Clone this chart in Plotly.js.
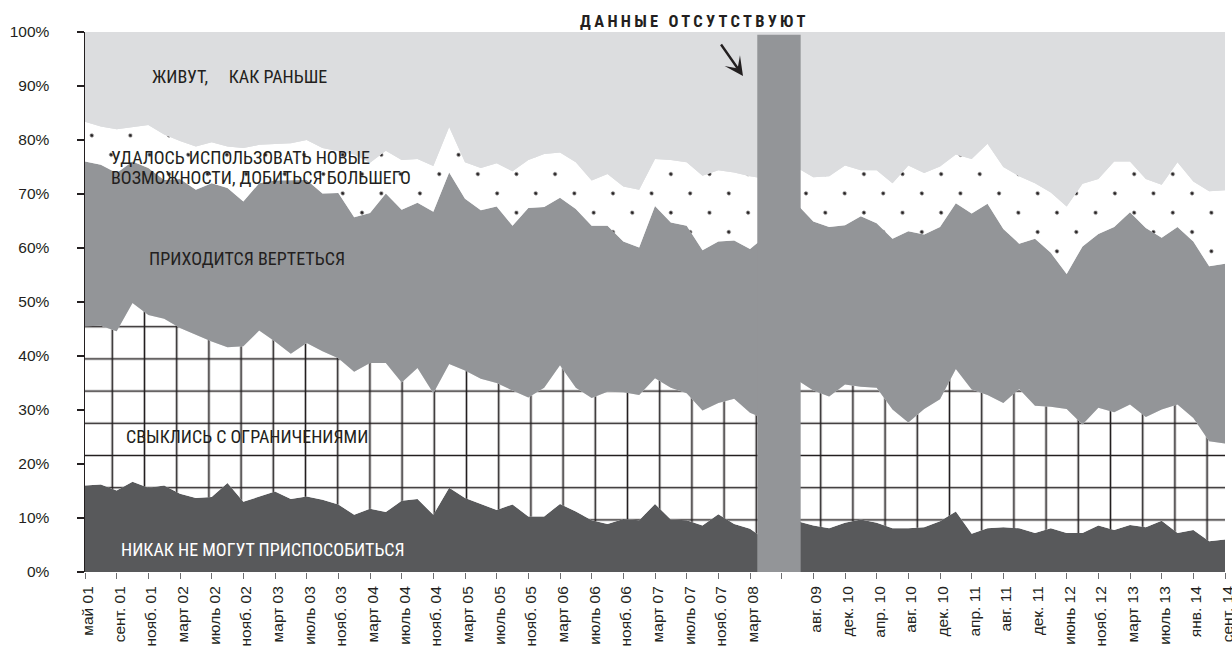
<!DOCTYPE html>
<html>
<head>
<meta charset="utf-8">
<script src="https://cdn.plot.ly/plotly-3.0.1.min.js"></script>
<style>
html, body { margin: 0; padding: 0; background: #ffffff; }
#chart { width: 1232px; height: 650px; }
</style>
</head>
<body>
<div id="chart"></div>
<script>
// ---- tick labels (one per labelled survey wave, blank = no data) ----
const tickLabels = ['май 01','сент. 01','нояб. 01','март 02','июль 02','нояб. 02','март 03','июль 03',
  'нояб. 03','март 04','июль 04','нояб. 04','март 05','июль 05','нояб. 05','март 06','июль 06',
  'нояб. 06','март 07','июль 07','нояб. 07','март 08','','авг. 09','дек. 10','апр. 10','авг. 10',
  'дек. 10','апр. 11','авг. 11','дек. 11','июнь 12','нояб. 12','март 13','июль 13','янв. 14','сент. 14'];
const yTickVals = [0,10,20,30,40,50,60,70,80,90,100];
const yTickText = ['0%','10%','20%','30%','40%','50%','60%','70%','80%','90%','100%'];

// ---- survey wave ordinal positions (two waves per labelled tick) ----
const waveIdx = [0,1,2,3,4,5,6,7,8,9,10,11,12,13,14,15,16,17,18,19,20,21,22,23,24,25,26,27,28,29,30,
  31,32,33,34,35,36,37,38,39,40,41,42,43,
  45,46,47,48,49,50,51,52,53,54,55,56,57,58,59,60,61,62,63,64,65,66,67,68,69,70,71,72];

// ---- series values, % ----
const neverAdapt = [16.0,16.2,15.1,16.7,15.6,16.0,14.5,13.7,13.9,16.5,13.0,14.0,14.9,13.5,14.0,13.4,12.5,
  10.6,11.7,11.1,13.2,13.5,10.6,15.6,13.7,12.6,11.5,12.5,10.3,10.3,12.6,11.2,9.6,8.9,9.8,9.6,12.6,9.7,
  9.6,8.6,10.7,8.9,8.0,5.9,
  9.4,8.6,8.1,9.1,9.7,9.1,8.1,8.1,8.3,9.4,11.2,7.1,8.1,8.3,8.1,7.2,8.1,7.2,7.2,8.6,7.8,8.7,8.3,9.5,
  7.2,7.8,5.7,6.0];
const resigned = [29.5,29.4,29.5,33.1,32.0,30.9,30.7,30.2,28.8,25.1,28.8,30.7,27.8,26.9,28.4,27.5,27.1,
  26.5,27.0,27.6,21.9,24.3,22.5,22.9,23.6,23.2,23.5,21.1,22.0,23.8,25.7,22.9,22.6,24.5,23.5,23.2,23.3,
  24.4,23.5,21.3,20.6,23.2,21.5,22.4,
  26.1,25.0,24.4,25.6,24.6,25.0,22.0,19.6,21.9,22.6,26.4,26.7,24.7,23.0,25.8,23.6,22.5,23.0,20.1,21.8,
  21.8,22.3,20.4,20.6,23.8,20.7,18.5,17.8];
const spinning = [30.5,29.8,29.3,26.2,27.2,25.7,27.6,26.9,29.3,29.5,26.8,27.3,29.8,32.1,30.2,29.2,30.6,
  28.6,27.8,31.4,32.0,30.6,33.6,35.5,31.8,31.2,32.7,30.5,35.1,33.5,31.0,33.1,31.9,30.7,27.9,27.3,31.9,
  30.6,31.0,29.7,29.9,29.3,30.3,33.9,
  32.5,31.3,31.4,29.5,31.6,30.5,31.6,35.4,32.3,31.9,30.7,32.6,35.4,32.2,26.9,30.9,28.5,25.0,33.0,32.2,
  34.3,35.6,35.0,31.8,32.9,32.7,32.4,33.3];
const newChances = [7.4,7.1,8.1,6.4,8.0,8.4,7.0,8.0,7.6,7.7,9.9,7.1,6.8,6.9,7.4,8.4,7.7,11.6,9.3,7.9,
  9.2,8.1,8.5,8.4,6.8,7.8,8.0,10.1,8.9,9.8,8.4,8.7,8.4,9.6,10.2,10.7,8.7,11.6,11.8,13.8,13.2,12.6,13.5,10.6,
  6.8,8.2,9.4,11.1,8.5,9.8,10.3,12.2,11.4,11.2,9.0,10.1,11.1,11.5,12.5,10.3,11.2,12.5,11.6,10.2,12.1,
  9.4,9.1,9.8,12.0,11.1,13.9,13.6];
const asBefore = [16.6,17.5,18.0,17.6,17.2,19.0,20.2,21.2,20.4,21.2,21.5,20.9,20.7,20.6,20.0,21.5,22.1,
  22.7,24.2,22.0,23.7,23.5,24.8,17.6,24.1,25.2,24.3,25.8,23.7,22.6,22.3,24.1,27.5,26.3,28.6,29.2,23.5,
  23.7,24.1,26.6,25.6,26.0,26.7,27.2,
  25.2,26.9,26.7,24.7,25.6,25.6,28.0,24.7,26.1,24.9,22.7,23.5,20.7,25.0,26.7,28.0,29.7,32.3,28.1,27.2,
  24.0,24.0,27.2,28.3,24.1,27.7,29.5,29.3];

// period without data (covered by a band)
const gapBand = { from: 42.46, to: 45.2 };

const C_DARK = '#58595b', C_MID = '#939598', C_LIGHT = '#dcdddf', C_INK = '#231f20';
const NARROW = '"Liberation Sans Narrow", "Arial Narrow", "Roboto Condensed", "DejaVu Sans Condensed", sans-serif';
const REG = '"Liberation Sans", Arial, Helvetica, sans-serif';

function area(name, y, color, pattern) {
  const t = { type: 'scatter', name: name, x: waveIdx, y: y, stackgroup: 'one', mode: 'lines',
    line: { width: 0 }, fillcolor: color, hoverinfo: 'skip' };
  if (pattern) t.fillpattern = pattern;
  return t;
}

const traces = [
  area('Никак не могут приспособиться', neverAdapt, C_DARK),
  area('Свыклись с ограничениями', resigned, '#ffffff',
       { shape: '+', size: 32.2, solidity: 0.097, fgcolor: C_INK, bgcolor: '#ffffff', fillmode: 'replace' }),
  area('Приходится вертеться', spinning, C_MID),
  area('Удалось использовать новые возможности', newChances, '#ffffff',
       { shape: '.', size: 27.3, solidity: 0.0137, fgcolor: C_INK, bgcolor: '#ffffff', fillmode: 'replace' }),
  area('Живут, как раньше', asBefore, C_LIGHT)
];

// plot-area geometry helpers for placing labels
const L = 85, T = 32, W = 1140, H = 540;
const px = x => (x - L) / W;
const py = y => (T + H - y) / H;

function label(text, x, y, color, extra) {
  return Object.assign({ text: text, xref: 'paper', yref: 'paper', x: px(x), y: py(y),
    xanchor: 'left', yanchor: 'middle', align: 'left', showarrow: false,
    font: { family: NARROW, size: 18, color: color || C_INK } }, extra || {});
}

const layout = {
  width: 1232, height: 650,
  margin: { l: L, r: 1232 - L - W, t: T, b: 650 - T - H, pad: 0 },
  paper_bgcolor: '#ffffff', plot_bgcolor: C_LIGHT,
  showlegend: false,
  xaxis: {
    range: [0, 72], tickmode: 'array', tickvals: tickLabels.map((_, i) => 2 * i), ticktext: tickLabels,
    tickangle: -90, ticks: 'outside', ticklen: 6, tickwidth: 1, tickcolor: '#6d6e71',
    showgrid: false, zeroline: false, showline: false, ticklabelstandoff: 1, ticklabelshift: 3,
    ticklabeloverflow: 'allow',
    tickfont: { family: REG, size: 15.5, color: C_INK }, fixedrange: true
  },
  yaxis: {
    range: [0, 100], tickmode: 'array', tickvals: yTickVals, ticktext: yTickText,
    ticks: 'outside', ticklen: 7, tickwidth: 1.5, tickcolor: C_INK,
    showline: true, linecolor: C_INK, linewidth: 1.5, showgrid: false, zeroline: false,
    ticklabelstandoff: 24, tickfont: { family: REG, size: 15.5, color: C_INK }, fixedrange: true
  },
  shapes: [
    { type: 'rect', xref: 'x', yref: 'y', x0: gapBand.from, x1: gapBand.to, y0: 0, y1: 99.5,
      fillcolor: C_MID, line: { width: 0 }, layer: 'above' }
  ],
  annotations: [
    label('ЖИВУТ,\u00a0\u00a0\u00a0\u00a0 КАК РАНЬШЕ', 150, 76),
    label('УДАЛОСЬ ИСПОЛЬЗОВАТЬ НОВЫЕ', 109, 157.5),
    label('ВОЗМОЖНОСТИ, ДОБИТЬСЯ БОЛЬШЕГО', 109, 177.5),
    label('ПРИХОДИТСЯ ВЕРТЕТЬСЯ', 147, 258),
    label('СВЫКЛИСЬ С ОГРАНИЧЕНИЯМИ', 124, 436.7),
    label('НИКАК НЕ МОГУТ ПРИСПОСОБИТЬСЯ', 119, 549, '#ffffff'),
    label('<b>ДАННЫЕ ОТСУТСТВУЮТ</b>', 578, 22, C_INK, { font: { family: NARROW, size: 16.5, color: C_INK } }),
    { text: '', xref: 'paper', yref: 'paper', x: px(743), y: py(76), ax: -23, ay: -33,
      showarrow: true, arrowhead: 3, arrowwidth: 2.4, arrowsize: 1.3, arrowcolor: C_INK }
  ]
};

Plotly.newPlot('chart', traces, layout, { displayModeBar: false, staticPlot: true }).then(gd => {
  gd.querySelectorAll('pattern').forEach(p => {
    if (p.querySelector('circle')) p.setAttribute('patternTransform', 'translate(6.8,6.9) rotate(45)');
    else p.setAttribute('patternTransform', 'translate(11.2,-11.2)');
  });
  gd.querySelectorAll('.annotation-text').forEach(t => {
    if (t.textContent.indexOf('ДАННЫЕ') >= 0) t.style.letterSpacing = '3.3px';
  });
});
</script>
</body>
</html>
